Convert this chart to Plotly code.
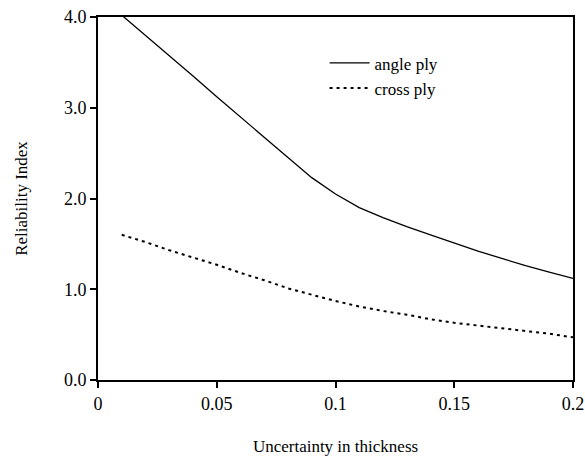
import plotly.graph_objects as go

# Data
thickness_uncertainty = [0.01, 0.02, 0.03, 0.04, 0.05, 0.06, 0.07, 0.08, 0.09, 0.10,
                         0.11, 0.12, 0.13, 0.14, 0.15, 0.16, 0.17, 0.18, 0.19, 0.20]
angle_ply = [4.02, 3.80, 3.58, 3.35, 3.12, 2.90, 2.67, 2.45, 2.23, 2.05,
             1.90, 1.79, 1.69, 1.60, 1.51, 1.42, 1.34, 1.26, 1.19, 1.12]
cross_ply = [1.60, 1.52, 1.43, 1.35, 1.27, 1.18, 1.10, 1.01, 0.94, 0.87,
             0.81, 0.76, 0.72, 0.67, 0.63, 0.60, 0.57, 0.54, 0.51, 0.47]

x_tick_vals = [0, 0.05, 0.1, 0.15, 0.2]
x_tick_text = ["0", "0.05", "0.1", "0.15", "0.2"]
y_tick_vals = [0, 1, 2, 3, 4]
y_tick_text = ["0.0", "1.0", "2.0", "3.0", "4.0"]

FONT = "Liberation Serif, Times New Roman, serif"

fig = go.Figure()
fig.add_trace(go.Scatter(x=thickness_uncertainty, y=angle_ply, mode="lines",
                         name="angle ply", line=dict(color="black", width=1.3)))
fig.add_trace(go.Scatter(x=thickness_uncertainty, y=cross_ply, mode="lines",
                         name="cross ply", line=dict(color="black", width=2, dash="3px,4px")))

axis_common = dict(showgrid=False, zeroline=False, showline=True, linecolor="black",
                   linewidth=2, mirror=True, ticks="outside", ticklen=6, tickwidth=1.5,
                   tickcolor="black", automargin=False,
                   tickfont=dict(family=FONT, size=18, color="black"))

fig.update_xaxes(range=[0, 0.2], tickvals=x_tick_vals, ticktext=x_tick_text,
                 title=dict(text="Uncertainty in thickness", font=dict(family=FONT, size=17, color="black"),
                            standoff=28),
                 **axis_common)
fig.update_yaxes(range=[0, 4], tickvals=y_tick_vals, ticktext=y_tick_text,
                 title=dict(text="Reliability Index", font=dict(family=FONT, size=17, color="black"),
                            standoff=32),
                 **axis_common)

fig.update_layout(
    width=585, height=456,
    margin=dict(l=98, r=12, t=17, b=76, autoexpand=False),
    paper_bgcolor="white", plot_bgcolor="white",
    font=dict(family=FONT, color="black"),
    showlegend=True,
    legend=dict(x=0.477, y=0.922, xanchor="left", yanchor="top",
                bgcolor="rgba(0,0,0,0)", borderwidth=0,
                font=dict(family=FONT, size=17, color="black"),
                itemwidth=40, tracegroupgap=0),
)

fig.write_html("out.html", config={"displayModeBar": False},
               post_script="document.body.style.margin='0';")
